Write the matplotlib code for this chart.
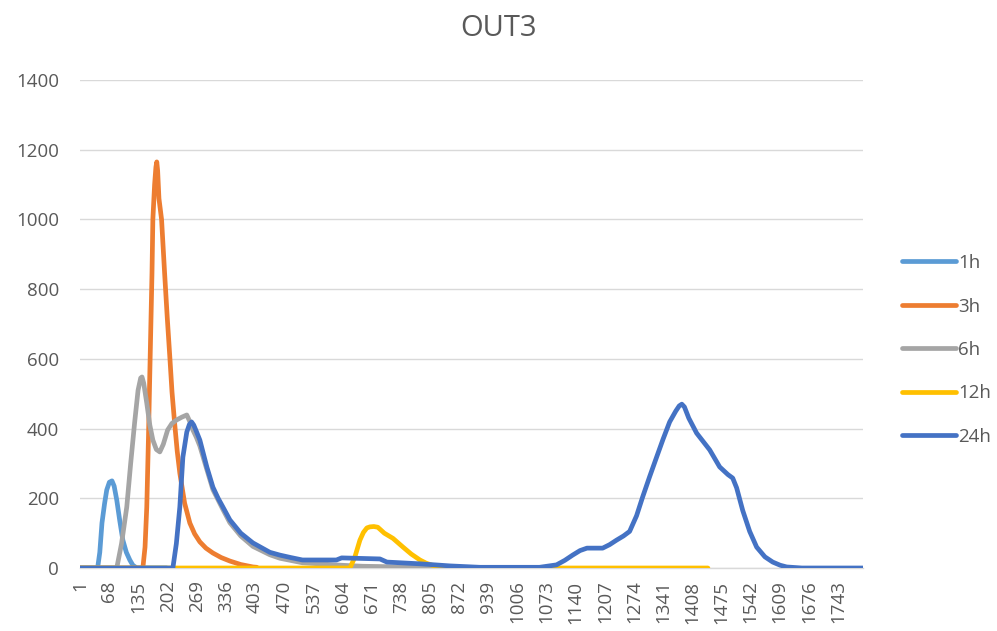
import matplotlib
matplotlib.use("Agg")
import matplotlib.pyplot as plt

plt.rcParams['font.family'] = ['Open Sans', 'DejaVu Sans']

# ---- data (category index on a 1..1800 categorical axis) ----
n_categories = 1800
tick_labels = [str(v) for v in range(1, 1801, 67)]

h1_x = [1, 41, 46, 51, 57, 62, 68, 74, 79, 85, 92, 99, 107, 115, 122, 131, 200]
h1_y = [0, 0, 45, 129, 185, 224, 246, 250, 235, 195, 135, 80, 45, 23, 8, 0, 0]

h3_x = [1, 145, 150, 154, 158, 161, 166, 168, 172, 175, 177, 179, 182, 188, 195, 201, 207, 212, 218, 224,
        230, 241, 253, 264, 276, 290, 306, 325, 345, 370, 398, 407]
h3_y = [0, 0, 60, 175, 380, 559, 846, 1000, 1100, 1150, 1165, 1140, 1060, 1000, 846, 720, 605, 505, 416, 335,
        272, 186, 129, 98, 75, 57, 43, 30, 20, 10, 3, 2]

h6_x = [1, 85, 96, 108, 117, 126, 134, 140, 143, 147, 154, 161, 168, 176, 184, 192, 202, 212, 223, 235,
        246, 253, 260, 268, 276, 292, 306, 329, 345, 370, 398, 437, 460, 512, 600, 650, 750, 844]
h6_y = [0, 0, 70, 175, 300, 416, 510, 545, 548, 530, 473, 410, 367, 340, 333, 355, 396, 415, 425, 433,
        439, 420, 396, 375, 350, 283, 225, 168, 130, 92, 62, 38, 28, 15, 8, 5, 3, 0]

h12_x = [1, 621, 632, 644, 652, 660, 667, 676, 685, 693, 700, 720, 743, 762, 782, 796, 810, 834, 1444]
h12_y = [0, 0, 30, 80, 102, 115, 118, 119, 117, 108, 100, 85, 60, 40, 23, 14, 8, 0, 0]

h24_x = [1, 214, 222, 230, 237, 246, 252, 257, 262, 268, 276, 292, 306, 318, 329, 345, 370, 398, 437, 460,
         485, 512, 590, 602, 690, 706, 782, 851, 920, 1057, 1096, 1115, 1133, 1150, 1166, 1202, 1218, 1234,
         1250, 1264, 1280, 1294, 1310, 1326, 1341, 1356, 1370, 1378, 1384, 1390, 1400, 1418, 1448, 1471,
         1490, 1501, 1510, 1524, 1540, 1556, 1575, 1593, 1610, 1625, 1660, 1800]
h24_y = [0, 0, 70, 175, 318, 390, 412, 419, 410, 392, 367, 290, 232, 200, 175, 138, 100, 72, 45, 37,
         30, 23, 23, 29, 26, 17, 12, 6, 2, 2, 9, 22, 37, 50, 57, 57, 67, 80,
         92, 105, 150, 204, 262, 318, 370, 419, 450, 465, 470, 462, 430, 387, 339, 290,
         268, 258, 230, 165, 105, 60, 32, 17, 8, 3, 0, 0]

series = [
    ("1h", h1_x, h1_y, "#5B9BD5"),
    ("3h", h3_x, h3_y, "#ED7D31"),
    ("6h", h6_x, h6_y, "#A5A5A5"),
    ("12h", h12_x, h12_y, "#FFC000"),
    ("24h", h24_x, h24_y, "#4472C4"),
]

text_color = "#595959"
grid_color = "#D9D9D9"

fig = plt.figure(figsize=(9.97, 6.31), dpi=100)
ax = fig.add_axes([80 / 997, 1 - 568 / 631, (863 - 80) / 997, (568 - 80) / 631])

for label, xs, ys, color in series:
    ax.plot(xs, ys, color=color, lw=3.4, label=label,
            solid_capstyle="round", solid_joinstyle="round", zorder=3)

ax.set_xlim(0.5, n_categories + 0.5)
ax.set_ylim(0, 1400)
ax.set_yticks(range(0, 1401, 200))
ax.set_xticks(range(1, 1801, 67))
ax.set_xticklabels(tick_labels, rotation=90, va="top", ha="center")

ax.grid(axis="y", color=grid_color, lw=1.0, zorder=0)
for s in ["top", "right", "left"]:
    ax.spines[s].set_visible(False)
ax.spines["bottom"].set_color(grid_color)
ax.spines["bottom"].set_linewidth(1.0)
ax.tick_params(axis="both", length=0, labelsize=13.5, colors=text_color)
ax.tick_params(axis="y", pad=15)
ax.tick_params(axis="x", pad=9)

fig.suptitle("OUT3", x=0.5, y=1 - 28 / 631, va="center", fontsize=21, color=text_color)

leg = ax.legend(loc="center left", bbox_to_anchor=(902 / 997, 1 - 350 / 631),
                bbox_transform=fig.transFigure, frameon=False, fontsize=13.5,
                handlelength=2.9, handletextpad=0.1, labelspacing=1.36,
                borderpad=0, borderaxespad=0)
for t in leg.get_texts():
    t.set_color(text_color)
for l in leg.get_lines():
    l.set_linewidth(3.4)
    l.set_solid_capstyle("round")

fig.savefig("out.png", dpi=100)
